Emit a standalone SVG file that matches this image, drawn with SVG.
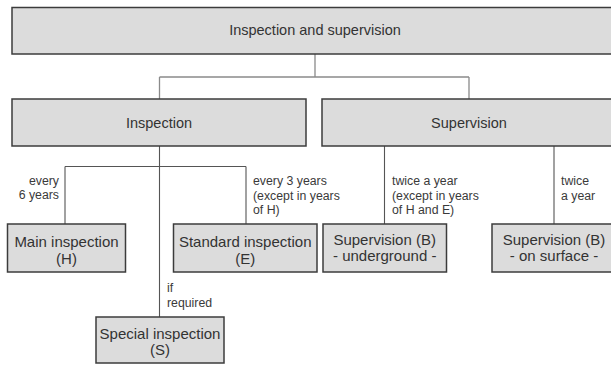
<svg xmlns="http://www.w3.org/2000/svg" width="611" height="365" viewBox="0 0 611 365">
<style>
.box{fill:#dcdcdc;stroke:#3c3c3c;stroke-width:1.5}
.t{font-family:"Liberation Sans",Arial,sans-serif;fill:#333;text-anchor:middle}
.bt{font-size:14.5px}
.nt{font-size:15px}
.lb{font-family:"Liberation Sans",Arial,sans-serif;fill:#3a3a3a;font-size:12.3px}
.c1{fill:none;stroke:#8a8a8a;stroke-width:1.3}
.c2{fill:none;stroke:#555;stroke-width:1.1}
</style>
<rect width="611" height="365" fill="#fff"/>
<g id="connectors">
<path class="c1" d="M315,54 V77 M159.5,77 H469 M159.5,77 V99 M469,77 V99"/>
<path class="c2" d="M159.5,146 V317 M65,166.5 H246 M65,166.5 V224 M246,166.5 V224 M384.5,146 V224 M554,146 V224"/>
</g>
<g id="labels">
<text class="lb" text-anchor="end"><tspan x="59" y="185">every</tspan><tspan x="59" y="198.5">6 years</tspan></text>
<text class="lb"><tspan x="253" y="185">every 3 years</tspan><tspan x="253" y="199.5">(except in years</tspan><tspan x="253" y="214">of H)</tspan></text>
<text class="lb"><tspan x="167" y="292">if</tspan><tspan x="167" y="306.5">required</tspan></text>
<text class="lb"><tspan x="392" y="185">twice a year</tspan><tspan x="392" y="199.5">(except in years</tspan><tspan x="392" y="214">of H and E)</tspan></text>
<text class="lb"><tspan x="561" y="185">twice</tspan><tspan x="561" y="199.5">a year</tspan></text>
</g>
<g id="root">
<rect class="box" x="12" y="7.5" width="606" height="46.5"/>
<text class="t bt" x="315" y="35">Inspection and supervision</text>
</g>
<g id="inspection">
<rect class="box" x="12" y="99" width="294" height="47"/>
<text class="t bt" x="159" y="128">Inspection</text>
</g>
<g id="supervision">
<rect class="box" x="322" y="99" width="294" height="47"/>
<text class="t bt" x="469" y="128">Supervision</text>
</g>
<g id="main-inspection">
<rect class="box" x="7.5" y="224" width="118" height="48"/>
<text class="t nt"><tspan x="66.5" y="247">Main inspection</tspan><tspan x="66.5" y="263.5">(H)</tspan></text>
</g>
<g id="standard-inspection">
<rect class="box" x="173.5" y="224" width="143.5" height="48"/>
<text class="t nt"><tspan x="245.2" y="247">Standard inspection</tspan><tspan x="245.2" y="263.5">(E)</tspan></text>
</g>
<g id="special-inspection">
<rect class="box" x="96" y="317" width="128" height="46"/>
<text class="t nt"><tspan x="160" y="338.5">Special inspection</tspan><tspan x="160" y="355">(S)</tspan></text>
</g>
<g id="supervision-underground">
<rect class="box" x="323" y="224" width="123.5" height="48"/>
<text class="t nt"><tspan x="384.7" y="244.5">Supervision (B)</tspan><tspan x="384.7" y="260.5">- underground -</tspan></text>
</g>
<g id="supervision-surface">
<rect class="box" x="492" y="224" width="124" height="48"/>
<text class="t nt"><tspan x="554" y="244.5">Supervision (B)</tspan><tspan x="554" y="260.5">- on surface -</tspan></text>
</g>
</svg>
